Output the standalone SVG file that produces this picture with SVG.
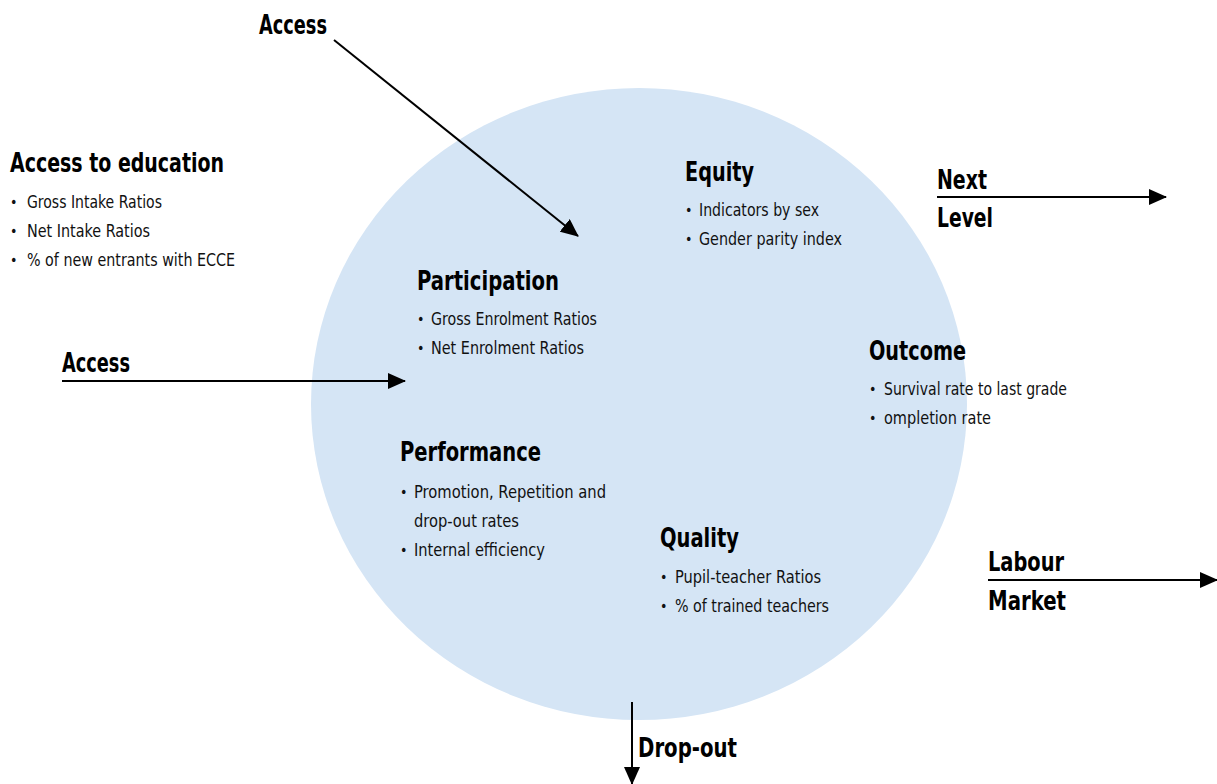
<svg xmlns="http://www.w3.org/2000/svg" width="1217" height="784" viewBox="0 0 1217 784">
<style>
.h{font-family:"DejaVu Sans Condensed","DejaVu Sans",sans-serif;font-weight:bold;font-size:26.5px;fill:#000}
.t{font-family:"DejaVu Sans Condensed","DejaVu Sans",sans-serif;font-size:17.5px;fill:#111}
.b{font-family:"DejaVu Sans Condensed","DejaVu Sans",sans-serif;font-size:14px;fill:#111}
.ln{stroke:#000;stroke-width:2;fill:none}
</style>
<defs>
<marker id="a2" viewBox="0 0 18 16" refX="17" refY="8" markerWidth="18" markerHeight="16" markerUnits="userSpaceOnUse" orient="auto">
<path d="M0,0 L18,8 L0,16 Z" fill="#000"/>
</marker>
</defs>
<ellipse id="circle" cx="639" cy="404" rx="328" ry="316" fill="#d5e5f5"/>
<g id="connectors">
<line class="ln" x1="334" y1="40" x2="578" y2="236" marker-end="url(#a2)"/>
<line class="ln" x1="62" y1="381" x2="405" y2="381" marker-end="url(#a2)"/>
<line class="ln" x1="937" y1="197" x2="1166" y2="197" marker-end="url(#a2)"/>
<line class="ln" x1="988" y1="580" x2="1217" y2="580" marker-end="url(#a2)"/>
<line class="ln" x1="632" y1="702" x2="632" y2="784" marker-end="url(#a2)"/>
</g>
<g id="access-top"><text class="h" x="259" y="34" textLength="68" lengthAdjust="spacingAndGlyphs">Access</text></g>
<g id="access-education">
<text class="h" x="10" y="172" textLength="214" lengthAdjust="spacingAndGlyphs">Access to education</text>
<text class="b" x="10" y="207">•</text><text class="t" x="27" y="208" textLength="135" lengthAdjust="spacingAndGlyphs">Gross Intake Ratios</text>
<text class="b" x="10" y="236">•</text><text class="t" x="27" y="237" textLength="123" lengthAdjust="spacingAndGlyphs">Net Intake Ratios</text>
<text class="b" x="10" y="265">•</text><text class="t" x="27" y="266" textLength="208" lengthAdjust="spacingAndGlyphs">% of new entrants with ECCE</text>
</g>
<g id="access-left"><text class="h" x="62" y="372" textLength="68" lengthAdjust="spacingAndGlyphs">Access</text></g>
<g id="participation">
<text class="h" x="417" y="290" textLength="142" lengthAdjust="spacingAndGlyphs">Participation</text>
<text class="b" x="417" y="324">•</text><text class="t" x="431" y="325" textLength="166" lengthAdjust="spacingAndGlyphs">Gross Enrolment Ratios</text>
<text class="b" x="417" y="353">•</text><text class="t" x="431" y="354" textLength="153" lengthAdjust="spacingAndGlyphs">Net Enrolment Ratios</text>
</g>
<g id="equity">
<text class="h" x="685" y="181" textLength="69" lengthAdjust="spacingAndGlyphs">Equity</text>
<text class="b" x="685" y="215">•</text><text class="t" x="699" y="216" textLength="120" lengthAdjust="spacingAndGlyphs">Indicators by sex</text>
<text class="b" x="685" y="244">•</text><text class="t" x="699" y="245" textLength="143" lengthAdjust="spacingAndGlyphs">Gender parity index</text>
</g>
<g id="next-level">
<text class="h" x="937" y="189" textLength="50" lengthAdjust="spacingAndGlyphs">Next</text>
<text class="h" x="937" y="227" textLength="56" lengthAdjust="spacingAndGlyphs">Level</text>
</g>
<g id="outcome">
<text class="h" x="869" y="360" textLength="97" lengthAdjust="spacingAndGlyphs">Outcome</text>
<text class="b" x="869" y="394">•</text><text class="t" x="884" y="395" textLength="183" lengthAdjust="spacingAndGlyphs">Survival rate to last grade</text>
<text class="b" x="869" y="423">•</text><text class="t" x="884" y="424" textLength="107" lengthAdjust="spacingAndGlyphs">ompletion rate</text>
</g>
<g id="performance">
<text class="h" x="400" y="461" textLength="141" lengthAdjust="spacingAndGlyphs">Performance</text>
<text class="b" x="400" y="497">•</text><text class="t" x="414" y="498" textLength="192" lengthAdjust="spacingAndGlyphs">Promotion, Repetition and</text>
<text class="t" x="414" y="527" textLength="105" lengthAdjust="spacingAndGlyphs">drop-out rates</text>
<text class="b" x="400" y="555">•</text><text class="t" x="414" y="556" textLength="131" lengthAdjust="spacingAndGlyphs">Internal efficiency</text>
</g>
<g id="quality">
<text class="h" x="660" y="547" textLength="79" lengthAdjust="spacingAndGlyphs">Quality</text>
<text class="b" x="660" y="582">•</text><text class="t" x="675" y="583" textLength="146" lengthAdjust="spacingAndGlyphs">Pupil-teacher Ratios</text>
<text class="b" x="660" y="611">•</text><text class="t" x="675" y="612" textLength="154" lengthAdjust="spacingAndGlyphs">% of trained teachers</text>
</g>
<g id="labour-market">
<text class="h" x="988" y="571" textLength="76" lengthAdjust="spacingAndGlyphs">Labour</text>
<text class="h" x="988" y="610" textLength="78" lengthAdjust="spacingAndGlyphs">Market</text>
</g>
<g id="drop-out"><text class="h" x="638" y="757" textLength="99" lengthAdjust="spacingAndGlyphs">Drop-out</text></g>
</svg>
